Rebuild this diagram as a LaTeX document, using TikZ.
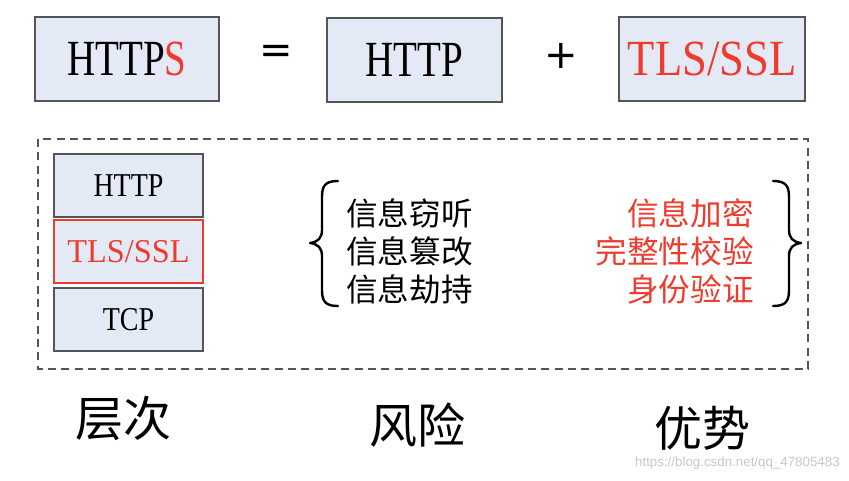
\documentclass[tikz,border=0pt]{standalone}
\usepackage{fontspec}
\usepackage{graphicx}
\setmainfont{Liberation Serif}
\newfontfamily\cjk{Noto Sans CJK SC}
\newfontfamily\wmfont{Liberation Sans}
\newfontfamily\opfont{DejaVu Sans}
\definecolor{boxfill}{HTML}{E4EAF5}
\definecolor{boxline}{HTML}{555555}
\definecolor{hired}{HTML}{EE3B2E}
\newcommand{\narrow}[2]{\scalebox{#1}[1]{#2}}
\tikzset{
  topbox/.style={draw=boxline, line width=1.4pt, fill=boxfill, inner sep=0pt,
    minimum height=63pt, font=\fontsize{38}{40}\selectfont},
  layerbox/.style={draw=boxline, line width=1.4pt, fill=boxfill, inner sep=0pt,
    minimum width=112pt, minimum height=47pt, font=\fontsize{25}{27}\selectfont},
  optext/.style={inner sep=0pt, font=\opfont\fontsize{30}{32}\selectfont},
  risktext/.style={inner sep=0pt, align=left, font=\cjk\fontsize{23.7}{28.5}\selectfont},
  gaintext/.style={inner sep=0pt, align=right, text=hired, font=\cjk\fontsize{23.7}{28.5}\selectfont},
  caption/.style={inner sep=0pt, font=\cjk\fontsize{36}{38}\selectfont},
  bracepath/.style={line width=1.8pt, line cap=round, line join=round},
}
\begin{document}
\begin{tikzpicture}[x=0.75pt,y=-0.75pt]
\useasboundingbox (0,0) rectangle (849,481);

% Drawing the top equation
\node[topbox, minimum width=138pt] (https) at (127,59) {\narrow{0.77}{HTTP\textcolor{hired}{S}}};
\node[optext] (eq) at (276,54) {=};
\node[topbox, minimum width=131pt] (http) at (414.5,60) {\narrow{0.77}{HTTP}};
\node[optext] (plus) at (561,56) {+};
\node[topbox, minimum width=139.5pt, text=hired] (tls) at (712,59) {\narrow{0.88}{TLS/SSL}};

% Drawing the dashed frame
\draw[boxline, line width=1.2pt, dash pattern=on 6pt off 4pt] (38,139) rectangle (808,369);

% Drawing the layer stack
\node[layerbox] (lhttp) at (128.5,185.5) {\narrow{0.84}{HTTP}};
\node[layerbox, draw=hired, text=hired] (ltls) at (128.5,251.5) {\narrow{0.97}{TLS/SSL}};
\node[layerbox] (ltcp) at (128.5,319.5) {\narrow{0.84}{TCP}};

% Drawing the braces
\draw[bracepath] (338,181) .. controls (325,181) and (322,186) .. (322,197) -- (322,230)
  .. controls (322,238) and (318,242) .. (310,243) .. controls (318,244) and (322,248) .. (322,256)
  -- (322,290) .. controls (322,301) and (325,306) .. (338,306);
\draw[bracepath] (773,181) .. controls (786,181) and (789,186) .. (789,197) -- (789,230)
  .. controls (789,238) and (793,242) .. (801,243) .. controls (793,244) and (789,248) .. (789,256)
  -- (789,290) .. controls (789,301) and (786,306) .. (773,306);

% Drawing risks and gains
\node[risktext, anchor=west] (risks) at (346,251) {信息窃听\\信息篡改\\信息劫持};
\node[gaintext, anchor=east] (gains) at (754,251) {信息加密\\完整性校验\\身份验证};

% Drawing the captions
\node[caption] (layers) at (123,418) {层次};
\node[caption] (risk) at (417,425) {风险};
\node[caption] (gain) at (702,428) {优势};

% Drawing the watermark
\node[inner sep=0pt, anchor=east, text=black!22, font=\wmfont\fontsize{10}{12}\selectfont] (mark) at (840,463) {https://blog.csdn.net/qq\_47805483};
\end{tikzpicture}
\end{document}
